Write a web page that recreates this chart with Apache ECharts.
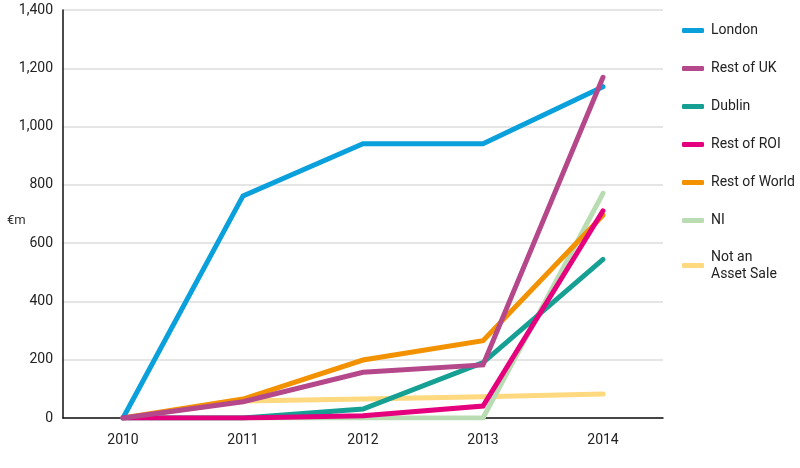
<!DOCTYPE html>
<html>
<head>
<meta charset="utf-8">
<script src="https://cdn.jsdelivr.net/npm/echarts@6/dist/echarts.min.js"></script>
<style>
  html, body { margin: 0; padding: 0; background: #fff; }
  #chart { width: 800px; height: 468px; }
</style>
</head>
<body>
<div id="chart"></div>
<script>
// years on the x axis
var years = ['2010', '2011', '2012', '2013', '2014'];
var yTicks = [0, 200, 400, 600, 800, 1000, 1200, 1400];

// €m per region
var london = [0, 762, 941, 941, 1137];
var restOfUK = [0, 56, 157, 182, 1169];
var dublin = [0, 0, 31, 190, 544];
var restOfROI = [0, 0, 8, 41, 711];
var restOfWorld = [0, 65, 199, 265, 696];
var ni = [0, 0, 0, 0, 771];
var notAssetSale = [0, 58, 65, 73, 82];

var legendNames = ['London', 'Rest of UK', 'Dublin', 'Rest of ROI', 'Rest of World', 'NI', 'Not an\nAsset Sale'];

var chart = echarts.init(document.getElementById('chart'));

function line(name, data, color, z) {
    return {
        name: name,
        type: 'line',
        data: data,
        z: z,
        showSymbol: false,
        symbol: 'none',
        lineStyle: { color: color, width: 5, cap: 'round', join: 'miter' },
        itemStyle: { color: color }
    };
}

// last legend entry is two lines, keep its icon level with the first line
var legendData = legendNames.map(function (n, i) {
    if (i === legendNames.length - 1) {
        return { name: n, textStyle: { padding: [0, 0, -17, 2] } };
    }
    return { name: n };
});

var option = {
    animation: false,
    textStyle: { fontFamily: 'Roboto' },
    grid: { left: 63, right: 137, top: 10, bottom: 50, containLabel: false, outerBoundsMode: 'none' },
    graphic: [{
        type: 'text',
        left: 7,
        top: 214,
        style: { text: '€m', fill: '#333', fontSize: 13, fontFamily: 'Roboto' }
    }],
    legend: {
        orient: 'vertical',
        left: 677,
        top: 17,
        itemWidth: 22,
        itemHeight: 5,
        itemGap: 21,
        icon: 'roundRect',
        data: legendData,
        textStyle: { fontSize: 14, lineHeight: 17, color: '#222', fontFamily: 'Roboto', padding: [0, 0, 0, 2] }
    },
    xAxis: {
        type: 'category',
        data: years,
        boundaryGap: true,
        axisLine: { lineStyle: { color: '#111', width: 1.5 } },
        axisTick: { show: false },
        axisLabel: { color: '#222', fontSize: 14, margin: 15 }
    },
    yAxis: {
        type: 'value',
        min: yTicks[0],
        max: yTicks[yTicks.length - 1],
        interval: 200,
        axisLine: { show: true, lineStyle: { color: '#111', width: 1.5 } },
        axisTick: { show: false },
        splitLine: { lineStyle: { color: '#dcdcdc', width: 1.5 } },
        axisLabel: {
            color: '#222',
            fontSize: 14,
            margin: 10,
            formatter: function (v) { return v.toLocaleString('en-US'); }
        }
    },
    series: [
        line('Not an\nAsset Sale', notAssetSale, '#ffd97f', 1),
        line('NI', ni, '#b9dcb3', 2),
        line('Rest of World', restOfWorld, '#f39200', 3),
        line('Dublin', dublin, '#16a093', 4),
        line('London', london, '#0aa0dc', 5),
        line('Rest of ROI', restOfROI, '#e5007d', 6),
        line('Rest of UK', restOfUK, '#b5488a', 7)
    ]
};

chart.setOption(option);
</script>
</body>
</html>
